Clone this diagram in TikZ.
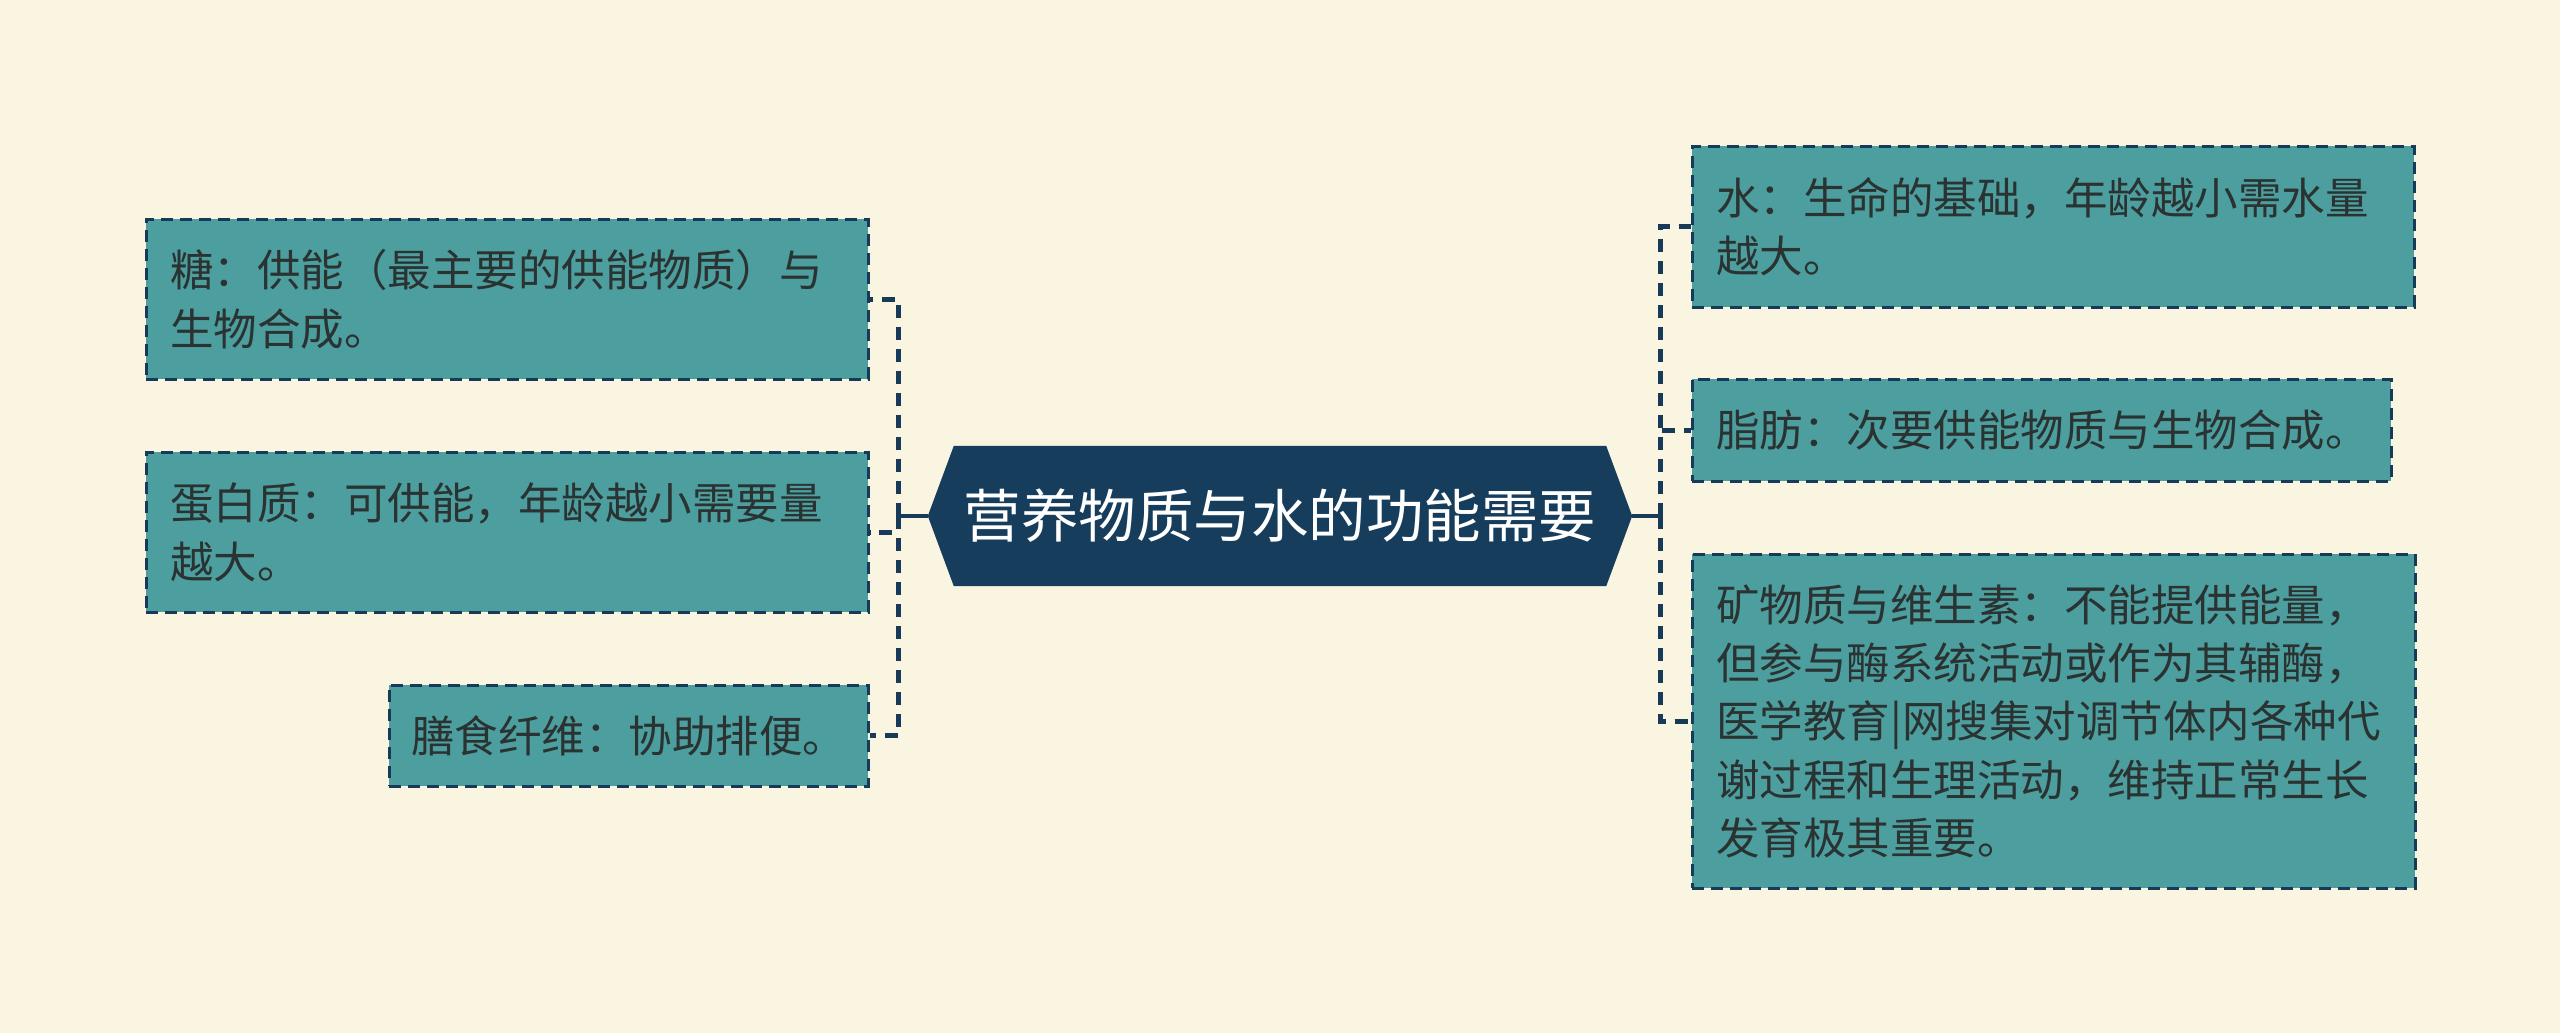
\documentclass[tikz,border=0pt]{standalone}
\usepackage{fontspec}
\newfontfamily\cjk{Noto Sans CJK SC}
\usetikzlibrary{backgrounds}
\definecolor{bgc}{RGB}{250,245,224}
\definecolor{boxfill}{RGB}{77,158,158}
\definecolor{navy}{RGB}{22,58,88}
\definecolor{rootc}{RGB}{23,61,93}
\definecolor{txt}{RGB}{42,50,50}
\tikzset{
  leaf/.style={draw=navy, fill=boxfill, line width=2.8pt, dash pattern=on 12pt off 7pt,
    anchor=north west, inner xsep=24pt, inner ysep=0pt, align=left,
    font=\cjk\fontsize{43.5pt}{58.3pt}\selectfont, text=txt},
  conn/.style={draw=navy, line width=5pt, dash pattern=on 13pt off 9pt},
  rootline/.style={draw=navy, line width=3.8pt},
  roottext/.style={font=\cjk\fontsize{57.5pt}{70pt}\selectfont, text=white,
    minimum width=704pt, minimum height=140pt, inner sep=0pt}
}
\begin{document}
\begin{tikzpicture}[x=1pt,y=-1pt]
\useasboundingbox (0,0) rectangle (2560,1033);
\node[roottext] (root) at (1280,516) {营养物质与水的功能需要};
\begin{pgfonlayer}{background}
\fill[bgc] (0,0) rectangle (2560,1033);
\fill[rootc] (root.west) -- ([xshift=26pt]root.north west) -- ([xshift=-26pt]root.north east)
  -- (root.east) -- ([xshift=-26pt]root.south east) -- ([xshift=26pt]root.south west) -- cycle;
\end{pgfonlayer}

% left children
\node[leaf, text width=674pt, minimum width=722pt, minimum height=160pt] (t1) at (145,218)
  {糖：供能（最主要的供能物质）与\\生物合成。};
\node[leaf, text width=674pt, minimum width=722pt, minimum height=160pt] (t2) at (145,451)
  {蛋白质：可供能，年龄越小需要量\\越大。};
\node[leaf, inner xsep=22pt, text width=435pt, minimum width=479pt, minimum height=101pt] (t3) at (388,684)
  {膳食纤维：协助排便。};

% right children
\node[leaf, text width=674pt, minimum width=722pt, minimum height=161pt] (r1) at (1691,145)
  {水：生命的基础，年龄越小需水量\\越大。};
\node[leaf, text width=651pt, minimum width=699pt, minimum height=102pt] (r2) at (1691,378)
  {脂肪：次要供能物质与生物合成。};
\node[leaf, text width=675pt, minimum width=723pt, minimum height=334pt] (r3) at (1691,553)
  {矿物质与维生素：不能提供能量，\\但参与酶系统活动或作为其辅酶，\\医学教育|网搜集对调节体内各种代\\谢过程和生理活动，维持正常生长\\发育极其重要。};

% junctions
\coordinate (lj) at (898,516);
\coordinate (rj) at (1660,516);

\draw[rootline] (root.west) -- (lj);
\draw[rootline] (root.east) -- (rj);

\draw[conn] (lj) |- (t1.east);
\draw[conn] (lj) |- (t2.east);
\draw[conn] (lj) |- (t3.east);
\draw[conn] (rj) |- (r1.west);
\draw[conn] (rj) |- (r2.west);
\draw[conn] (rj) |- (r3.west);
\end{tikzpicture}
\end{document}
